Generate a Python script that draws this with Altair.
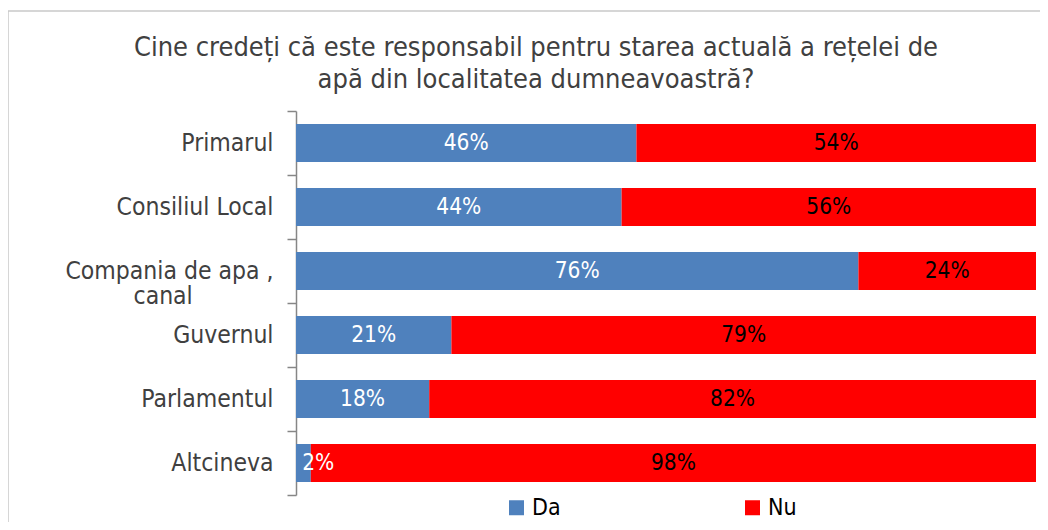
import altair as alt
import pandas as pd

categories = ["Primarul", "Consiliul Local", "Compania de apa , canal", "Guvernul", "Parlamentul", "Altcineva"]
axis_labels = ["Primarul", "Consiliul Local", "Compania de apa ,|canal" + "\u2800" * 5, "Guvernul", "Parlamentul", "Altcineva"]
series = ["Da", "Nu"]
da_values = [46, 44, 76, 21, 18, 2]
nu_values = [54, 56, 24, 79, 82, 98]
colors = ["#4F81BD", "#FF0000"]
title_lines = ["Cine credeți că este responsabil pentru starea actuală a rețelei de",
               "apă din localitatea dumneavoastră?"]

rows = []
for cat, lab, d, n in zip(categories, axis_labels, da_values, nu_values):
    rows.append({"cat": lab, "resp": "Da", "value": d, "start": 0, "end": d})
    rows.append({"cat": lab, "resp": "Nu", "value": n, "start": d, "end": d + n})
df = pd.DataFrame(rows)
df["label"] = df["value"].astype(str) + "%"
one = pd.DataFrame({"k": [0]})

FONT = "DejaVu Sans Condensed"
GREY = "#404040"

y_enc = alt.Y("cat:N", sort=axis_labels, title=None,
              scale=alt.Scale(paddingInner=0, paddingOuter=0),
              axis=alt.Axis(labelExpr="isValid(datum.value) ? split(datum.value, '|') : ''",
                            labelFontSize=24.5, labelFont=FONT, labelColor=GREY, labelPadding=14,
                            labelLineHeight=25, tickSize=9, tickColor="#868686",
                            domainColor="#868686", tickWidth=1.5, domainWidth=1.5,
                            tickBand="extent", labelLimit=300))

x_scale = alt.Scale(domain=[0, 100], nice=False)

bars = alt.Chart(df).mark_bar(height=38).encode(
    y=y_enc,
    x=alt.X("start:Q", scale=x_scale, axis=None),
    x2="end:Q",
    color=alt.Color("resp:N", scale=alt.Scale(domain=series, range=colors),
                    legend=alt.Legend(title=None, orient="none", legendX=209, legendY=385,
                                      direction="horizontal", symbolType="square",
                                      symbolSize=225, labelFontSize=23, labelFont=FONT,
                                      labelColor="black", columnPadding=180, labelOffset=4,
                                      symbolStrokeWidth=0)),
)

texts = alt.Chart(df).transform_calculate(
    mid="max((datum.start + datum.end) / 2, 3)"
).mark_text(fontSize=22.5, font=FONT, baseline="middle", align="center").encode(
    y=alt.Y("cat:N", sort=axis_labels),
    x=alt.X("mid:Q", scale=x_scale),
    text="label:N",
    color=alt.condition("datum.resp == 'Da'", alt.value("white"), alt.value("black")),
)

title1 = alt.Chart(one).mark_text(fontSize=27, font=FONT, color=GREY, align="center",
                                  baseline="alphabetic").encode(
    x=alt.value(240), y=alt.value(-55), text=alt.value(title_lines[0]))
title2 = alt.Chart(one).mark_text(fontSize=27, font=FONT, color=GREY, align="center",
                                  baseline="alphabetic").encode(
    x=alt.value(240), y=alt.value(-23), text=alt.value(title_lines[1]))

border_top = alt.Chart(one).mark_rule(color="#C8C8C8", strokeWidth=1.5).encode(
    x=alt.value(-288), x2=alt.value(744), y=alt.value(-100))
border_left = alt.Chart(one).mark_rule(color="#C8C8C8", strokeWidth=1.5).encode(
    x=alt.value(-288), y=alt.value(-100), y2=alt.value(430))

chart = alt.layer(border_top, border_left, title1, title2, bars, texts).properties(
    width=740, height=384,
    autosize=alt.AutoSizeParams(type="none"),
    padding={"left": 288, "top": 103, "right": 4, "bottom": 27},
).configure_view(stroke=None)

chart.save("out.html", embed_options={"renderer": "svg", "actions": False})
